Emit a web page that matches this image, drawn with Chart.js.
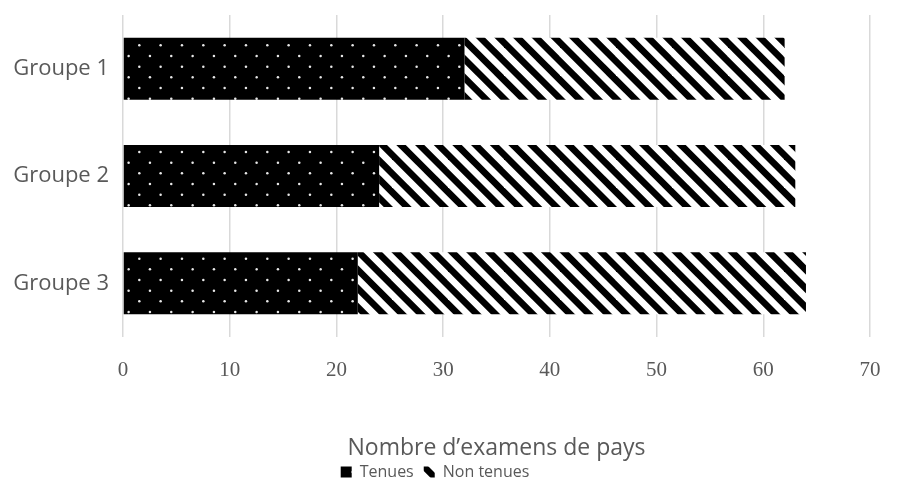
<!DOCTYPE html>
<html lang="fr">
<head>
<meta charset="utf-8">
<title>Examens de pays</title>
<script src="https://cdn.jsdelivr.net/npm/chart.js@4.4.1/dist/chart.umd.min.js"></script>
<style>
  html, body { margin: 0; padding: 0; background: #ffffff; }
  #wrap { width: 918px; height: 485px; position: relative; }
</style>
</head>
<body>
<div id="wrap"><canvas id="chart" width="918" height="485"></canvas></div>
<script>
// Catégories et valeurs
const groupes = ['Groupe 1', 'Groupe 2', 'Groupe 3'];
const tenues = [32, 24, 22];
const nonTenues = [30, 39, 42];
const seriesLabels = ['Tenues', 'Non tenues'];
const xTicks = [0, 10, 20, 30, 40, 50, 60, 70];
const axisTitle = 'Nombre d\u2019examens de pays';

const GREY = '#595959';
const SANS = '"Open Sans", sans-serif';

// Motif pointillé : fond noir, points clairs en quinconce
function dotPattern(ctx) {
  const size = 64;
  const c = document.createElement('canvas');
  c.width = size; c.height = size;
  const g = c.getContext('2d');
  g.fillStyle = '#000';
  g.fillRect(0, 0, size, size);
  g.fillStyle = '#e8e8e8';
  const dx = size / 3, dy = size / 6;
  for (let r = 0; r < 6; r++) {
    const y = 2.7 + r * dy;
    const off = (r % 2 === 0) ? 11.3 : 0.6;
    for (let k = -1; k < 4; k++) {
      const x = off + k * dx;
      g.beginPath();
      g.arc(x, y, 1.25, 0, Math.PI * 2);
      g.fill();
    }
  }
  return ctx.createPattern(c, 'repeat');
}

// Motif hachuré : bandes noires descendantes (\)
function hatchPattern(ctx) {
  const size = 56;
  const P = size / 3;
  const c = document.createElement('canvas');
  c.width = size; c.height = size;
  const g = c.getContext('2d');
  g.fillStyle = '#fff';
  g.fillRect(0, 0, size, size);
  g.strokeStyle = '#000';
  g.lineWidth = (P / Math.SQRT2) * 0.5;
  const phase = 8.7 + P / 4;
  for (let k = -6; k < 6; k++) {
    const x0 = phase + k * P;
    g.beginPath();
    g.moveTo(x0 - size, -size);
    g.lineTo(x0 + 2 * size, 2 * size);
    g.stroke();
  }
  return ctx.createPattern(c, 'repeat');
}

const canvas = document.getElementById('chart');
const ctx = canvas.getContext('2d');

new Chart(ctx, {
  type: 'bar',
  data: {
    labels: groupes,
    datasets: [
      {
        label: seriesLabels[0],
        data: tenues,
        backgroundColor: dotPattern(ctx),
        borderWidth: 0,
        barPercentage: 0.577,
        categoryPercentage: 1
      },
      {
        label: seriesLabels[1],
        data: nonTenues,
        backgroundColor: hatchPattern(ctx),
        borderWidth: 0,
        barPercentage: 0.577,
        categoryPercentage: 1
      }
    ]
  },
  options: {
    indexAxis: 'y',
    responsive: false,
    animation: false,
    layout: { padding: { left: 0, right: 48, top: 15, bottom: -5 } },
    scales: {
      x: {
        stacked: true,
        min: 0,
        max: 70,
        afterBuildTicks: (scale) => { scale.ticks = xTicks.map(v => ({ value: v })); },
        afterFit: (scale) => { scale.height = 117; },
        grid: { color: '#d9d9d9', lineWidth: 1.5, drawTicks: false },
        border: { display: false },
        ticks: {
          padding: 21,
          color: GREY,
          font: { family: '"Liberation Serif", serif', size: 21 }
        },
        title: {
          display: true,
          text: axisTitle,
          color: GREY,
          padding: { top: 0, bottom: -8 },
          font: { family: SANS, size: 23 }
        }
      },
      y: {
        stacked: true,
        afterFit: (scale) => {
          scale.width = 123;
          scale.paddingTop = 0;
          scale.paddingBottom = 0;
        },
        grid: { display: false, drawTicks: false },
        border: { display: false },
        ticks: {
          padding: 14,
          color: GREY,
          font: { family: SANS, size: 22 }
        }
      }
    },
    plugins: {
      tooltip: { enabled: false },
      legend: {
        position: 'bottom',
        labels: {
          boxWidth: 11,
          boxHeight: 11,
          padding: 10,
          color: GREY,
          font: { family: SANS, size: 16 }
        }
      }
    }
  }
});
</script>
</body>
</html>
